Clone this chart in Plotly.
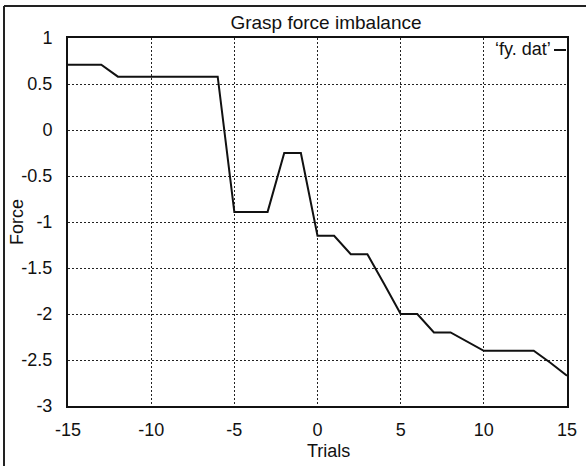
import plotly.graph_objects as go

# Data
trials = list(range(-15, 16))
force = [0.71, 0.71, 0.71, 0.58, 0.58, 0.58, 0.58, 0.58, 0.58, 0.58,
         -0.89, -0.89, -0.89, -0.25, -0.25,
         -1.15, -1.15, -1.35, -1.35, -1.67, -2.0, -2.0, -2.2, -2.2, -2.3,
         -2.4, -2.4, -2.4, -2.4, -2.53, -2.67]

x_ticks = [-15, -10, -5, 0, 5, 10, 15]
x_tick_labels = ["-15", "-10", "-5", "0", "5", "10", "15"]
y_ticks = [1, 0.5, 0, -0.5, -1, -1.5, -2, -2.5, -3]
y_tick_labels = ["1", "0.5", "0", "-0.5", "-1", "-1.5", "-2", "-2.5", "-3"]

title_text = "Grasp force imbalance"
x_title = "Trials"
y_title = "Force"
series_name = "\u2018fy. dat\u2019"

FONT = "Liberation Sans, Arial, Helvetica, sans-serif"

fig = go.Figure()
fig.add_trace(go.Scatter(x=trials, y=force, mode="lines", name=series_name,
                         line=dict(color="#111111", width=2), showlegend=False,
                         hoverinfo="skip"))

W, H = 586, 466
L, R, T, B = 68, 19, 38, 60
pw, ph = W - L - R, H - T - B

def px_x(p):
    return (p - L) / pw

def px_y(p):
    return (H - B - p) / ph

axis_common = dict(showline=True, linecolor="#111111", linewidth=2, mirror=True,
                   showgrid=True, gridcolor="#222222", gridwidth=1, griddash="2px,2px",
                   zeroline=False, ticks="", automargin=False,
                   tickfont=dict(family=FONT, size=18, color="#111111"))

fig.update_layout(
    width=W, height=H,
    margin=dict(l=L, r=R, t=T, b=B, autoexpand=False),
    paper_bgcolor="white", plot_bgcolor="white",
    font=dict(family=FONT, color="#111111"),
    title=dict(text=title_text, font=dict(family=FONT, size=19, color="#111111"),
               x=px_x(326), xref="paper", xanchor="center",
               y=1 - 22 / H, yref="container", yanchor="middle", automargin=False),
    xaxis=dict(range=[-15, 15], tickvals=x_ticks, ticktext=x_tick_labels,
               ticklabelstandoff=6, **axis_common),
    yaxis=dict(range=[-3, 1], tickvals=y_ticks, ticktext=y_tick_labels,
               ticklabelstandoff=10, **axis_common),
)

# axis titles placed like the original
fig.add_annotation(text=x_title, xref="paper", yref="paper",
                   x=px_x(328), y=px_y(451), xanchor="center", yanchor="middle",
                   showarrow=False, font=dict(family=FONT, size=18, color="#111111"))
fig.add_annotation(text=y_title, xref="paper", yref="paper", textangle=-90,
                   x=px_x(17), y=px_y(222), xanchor="center", yanchor="middle",
                   showarrow=False, font=dict(family=FONT, size=18, color="#111111"))

# legend drawn like the original: text followed by a short line sample
fig.add_annotation(text=series_name, xref="paper", yref="paper",
                   x=px_x(553), y=px_y(49), xanchor="right", yanchor="middle",
                   showarrow=False, font=dict(family=FONT, size=18, color="#111111"))
fig.add_shape(type="line", xref="paper", yref="paper",
              x0=px_x(554), x1=px_x(566), y0=px_y(50), y1=px_y(50),
              line=dict(color="#111111", width=2))

# outer frame of the scanned figure (left and top edges)
fig.add_shape(type="line", xref="paper", yref="paper",
              x0=px_x(4), x1=px_x(586), y0=px_y(6), y1=px_y(6),
              line=dict(color="#222222", width=2))
fig.add_shape(type="line", xref="paper", yref="paper",
              x0=px_x(4), x1=px_x(4), y0=px_y(6), y1=px_y(466),
              line=dict(color="#222222", width=2))

fig.write_html("out.html",
               config={"displayModeBar": False},
               post_script="document.body.style.margin='0';document.body.style.overflow='hidden';")
